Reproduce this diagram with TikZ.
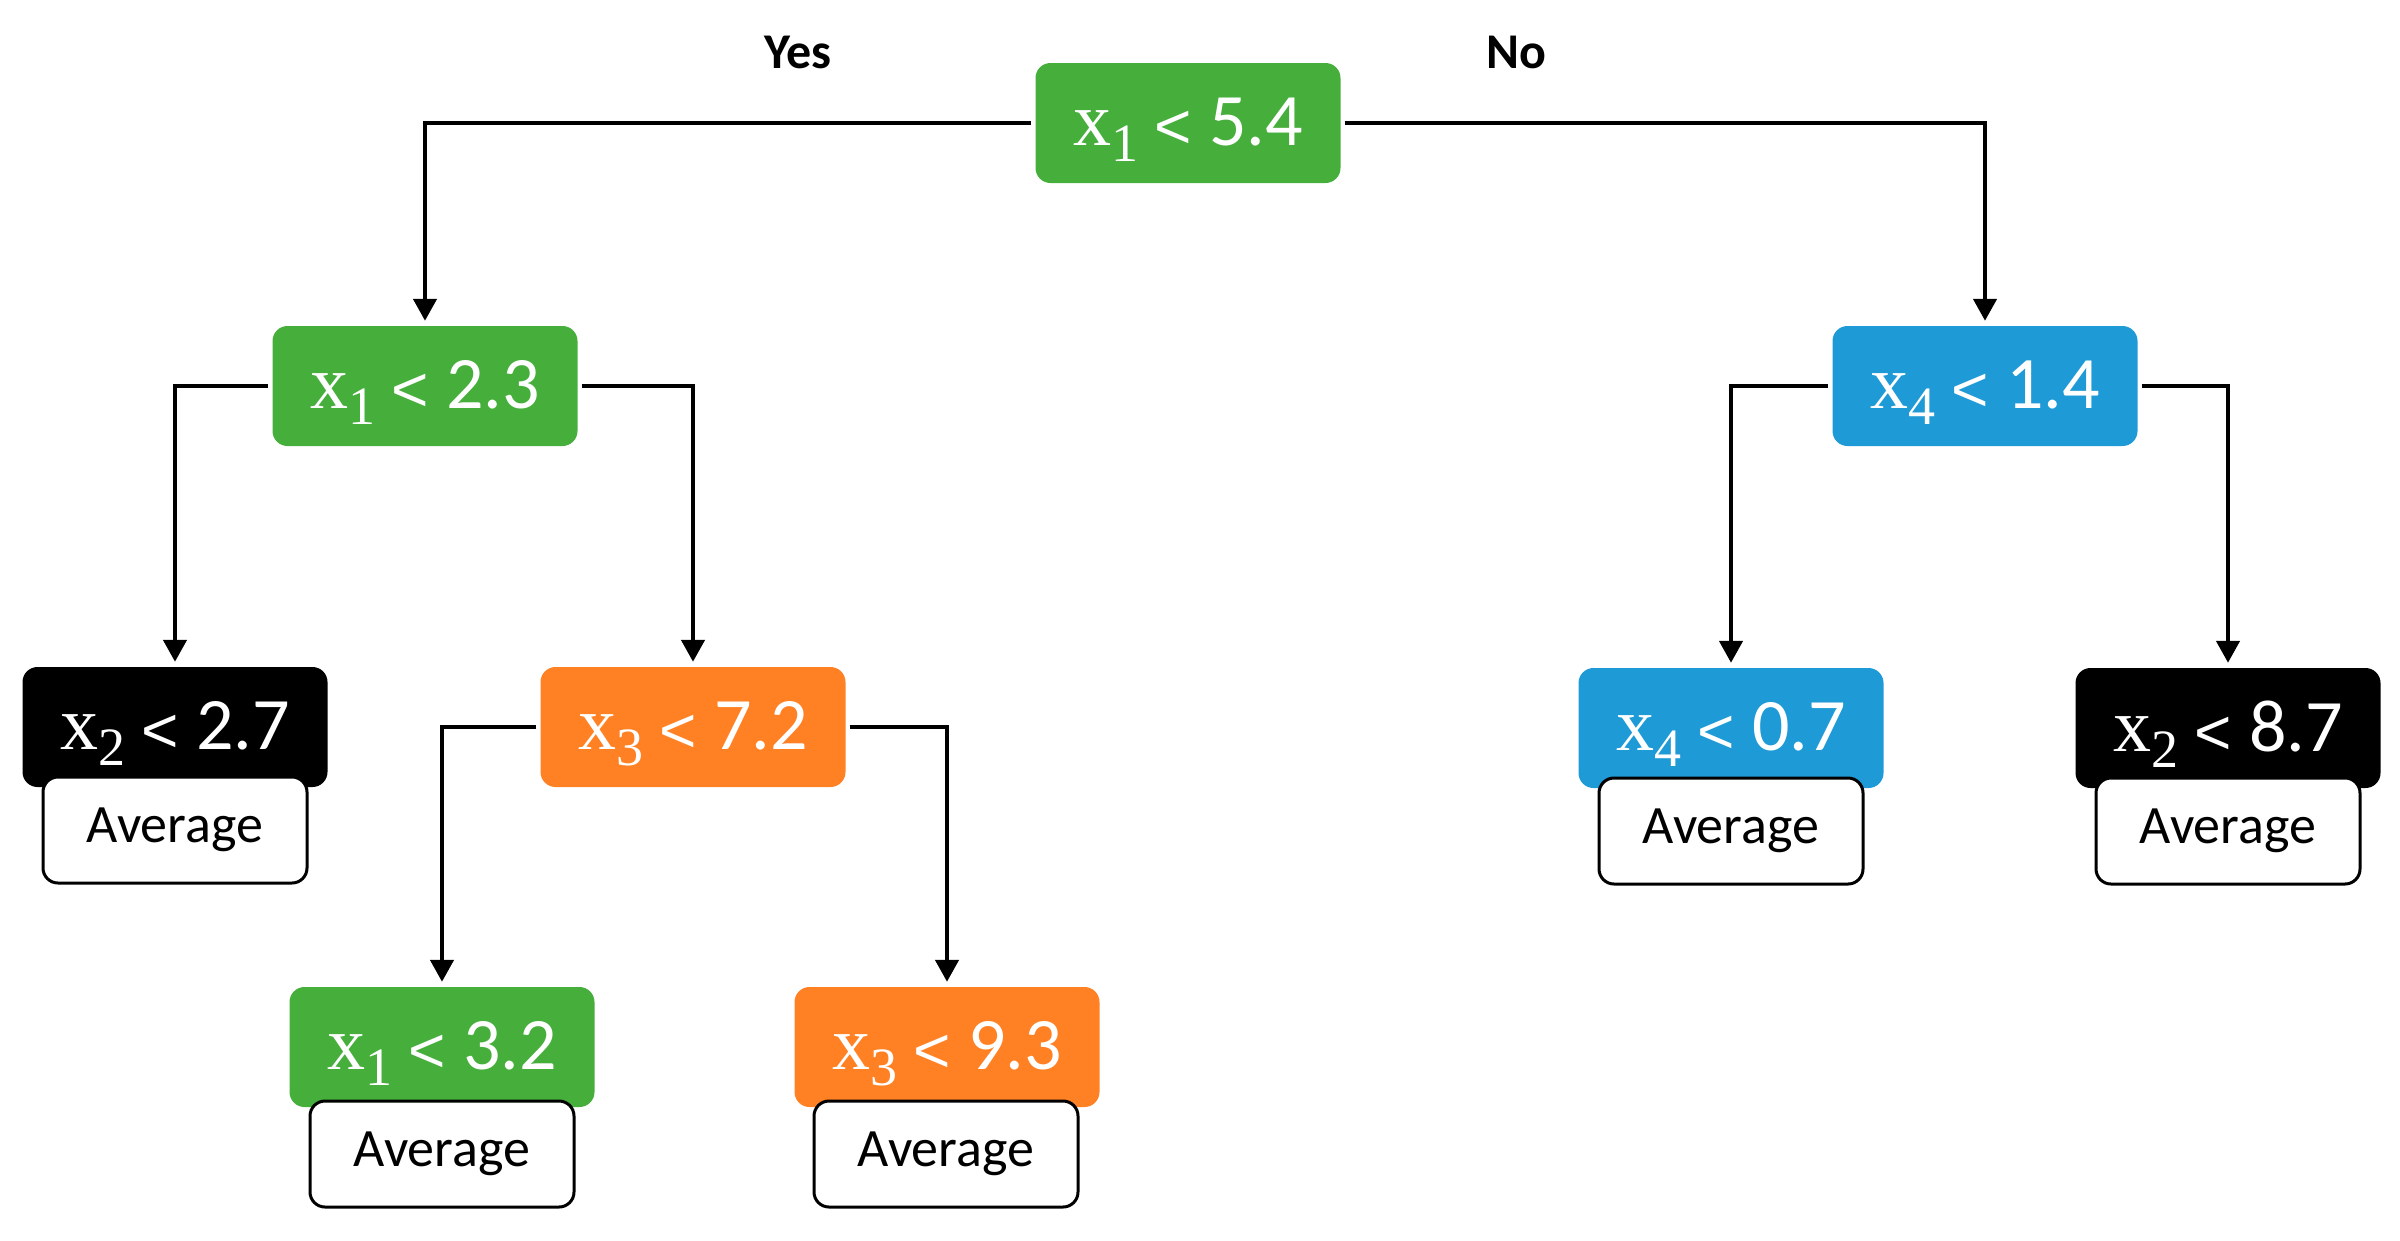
\documentclass[tikz,border=0pt]{standalone}
\usepackage{fontspec}
\setmainfont{Carlito}
\newfontfamily\xserif{Liberation Serif}
\newfontfamily\ltfont{Liberation Sans}
\usetikzlibrary{arrows.meta}
\definecolor{cgreen}{RGB}{70,175,60}
\definecolor{corange}{RGB}{255,129,36}
\definecolor{cblue}{RGB}{30,154,214}
\newcommand\xvar[1]{{\xserif\fontsize{76}{80}\selectfont x}\raisebox{-16pt}[0pt][0pt]{\xserif\fontsize{54}{60}\selectfont #1}}
\newcommand\lt{\raisebox{-3pt}{\ltfont\fontsize{64}{70}\selectfont <}}
\begin{document}
\begin{tikzpicture}[x=1pt,y=-1pt,
  split/.style={rounded corners=15pt, minimum width=305pt, minimum height=120pt, inner sep=0pt, text=white, font=\fontsize{74}{80}\selectfont},
  avgbox/.style={draw=black, line width=3pt, fill=white, rounded corners=15pt, minimum width=264pt, minimum height=106pt, inner sep=0pt, font=\fontsize{54}{60}\selectfont},
  lbl/.style={font=\bfseries\fontsize{50}{56}\selectfont},
  conn/.style={line width=4.5pt, shorten <=4pt, shorten >=5pt, -{Triangle[length=22pt,width=23pt]}}]
\useasboundingbox (0,0) rectangle (2400,1240);

\node[split, fill=cgreen] (root) at (1188,123) {\xvar{1} \lt{} 5.4};
\node[split, fill=cgreen] (n1) at (425,386) {\xvar{1} \lt{} 2.3};
\node[split, fill=cblue] (n2) at (1985,386) {\xvar{4} \lt{} 1.4};

\node[split, fill=black] (n11) at (175,727) {\xvar{2} \lt{} 2.7};
\node[split, fill=corange] (n12) at (693,727) {\xvar{3} \lt{} 7.2};
\node[split, fill=cblue] (n21) at (1731,728) {\xvar{4} \lt{} 0.7};
\node[split, fill=black] (n22) at (2228,728) {\xvar{2} \lt{} 8.7};

\node[split, fill=cgreen] (n121) at (442,1047) {\xvar{1} \lt{} 3.2};
\node[split, fill=corange] (n122) at (947,1047) {\xvar{3} \lt{} 9.3};

\node[avgbox] (a11) at (175,830) {Average};
\node[avgbox] (a21) at (1731,831) {Average};
\node[avgbox] (a22) at (2228,831) {Average};
\node[avgbox] (a121) at (442,1154) {Average};
\node[avgbox] (a122) at (946,1154) {Average};

\node[lbl] (yes) at (798,52) {Yes};
\node[lbl] (no) at (1516,52) {No};

\draw[conn] (root.west) -| (n1.north);
\draw[conn] (root.east) -| (n2.north);
\draw[conn] (n1.west) -| (n11.north);
\draw[conn] (n1.east) -| (n12.north);
\draw[conn] (n12.west) -| (n121.north);
\draw[conn] (n12.east) -| (n122.north);
\draw[conn] (n2.west) -| (n21.north);
\draw[conn] (n2.east) -| (n22.north);
\end{tikzpicture}
\end{document}
